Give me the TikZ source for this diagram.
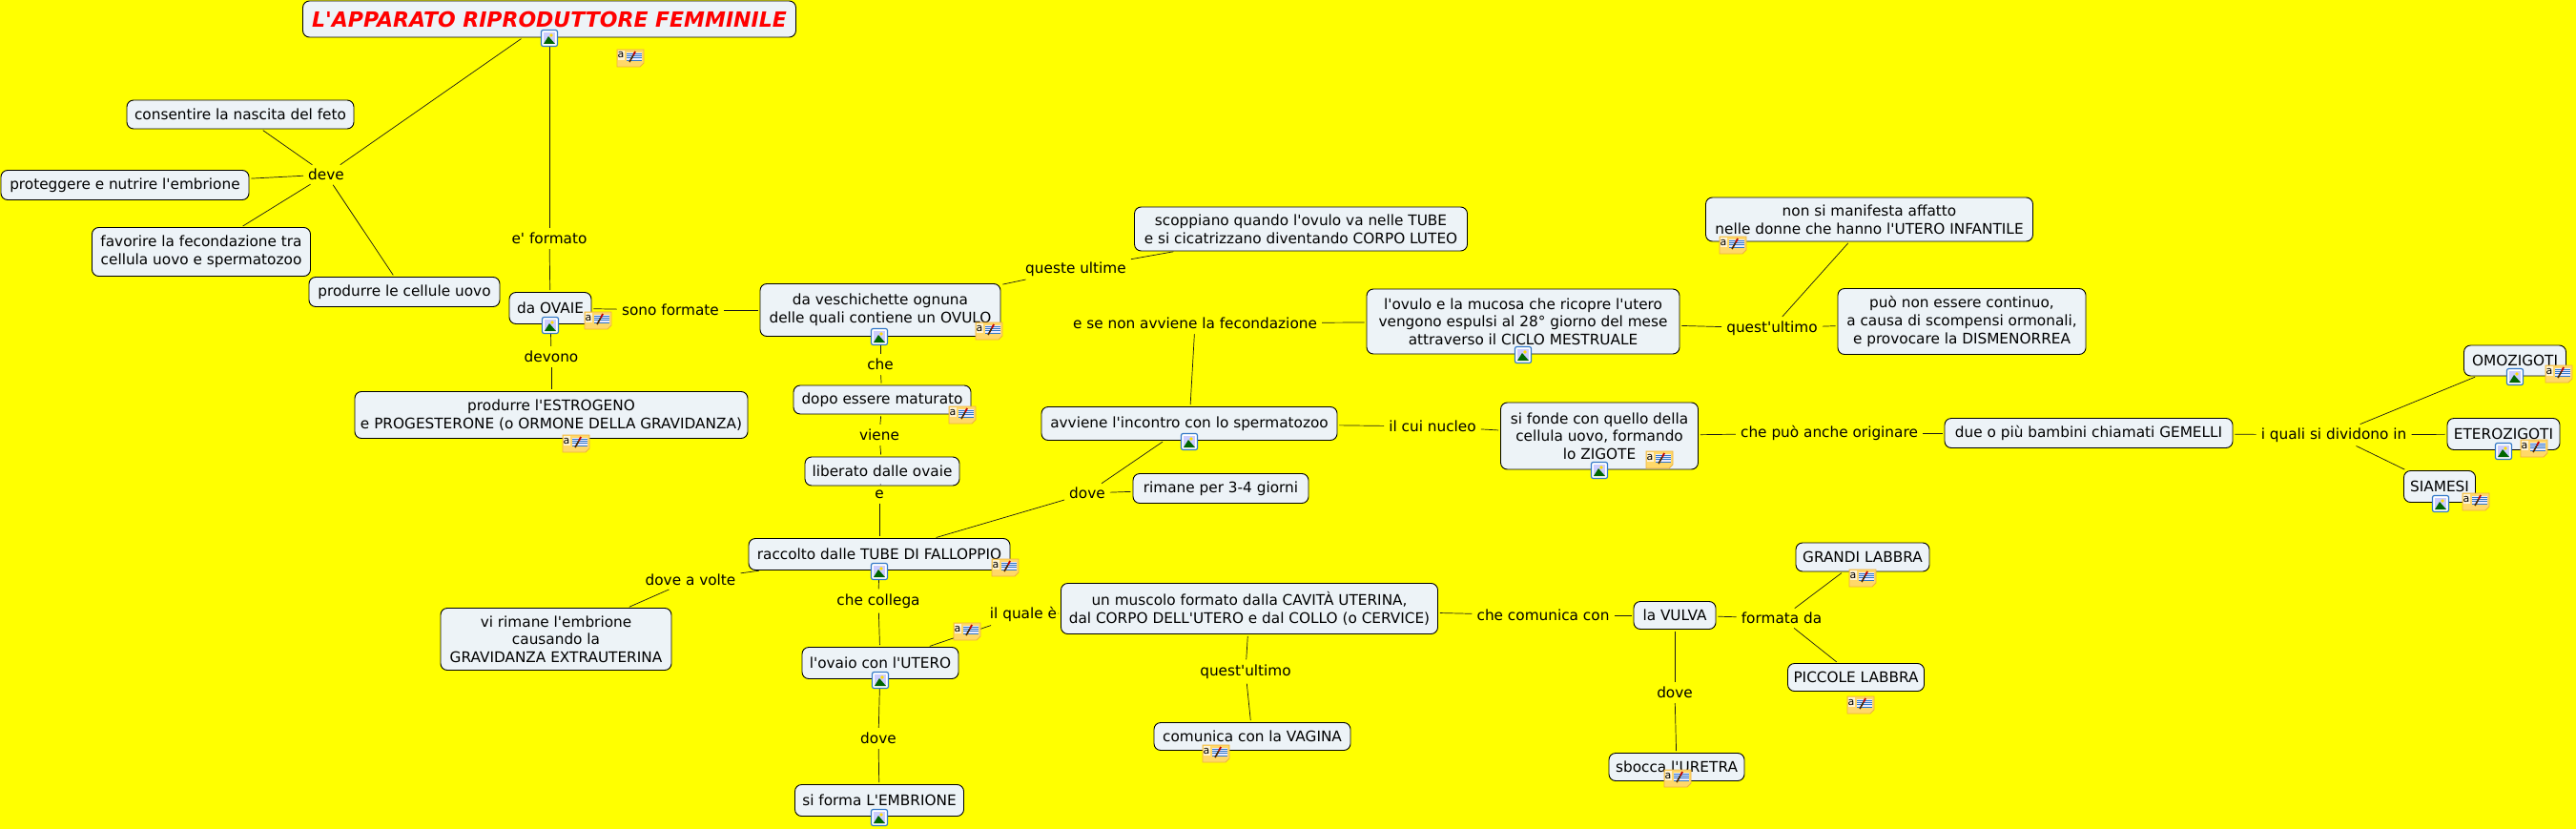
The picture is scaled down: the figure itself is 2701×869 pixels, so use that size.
\documentclass[tikz,border=0pt]{standalone}
\usepackage{fontspec}
\setmainfont{DejaVu Sans}[Ligatures=TeXOff]
\usepackage{tikz}
\usetikzlibrary{calc}
\definecolor{sfondo}{RGB}{255,255,0}
\definecolor{riempi}{RGB}{237,243,247}
\definecolor{notafill}{RGB}{255,216,105}
\definecolor{notabordo}{RGB}{238,178,60}
\definecolor{azzurro}{RGB}{50,120,200}
\tikzset{
  concetto/.style 2 args={draw=black,fill=riempi,rounded corners=7pt,line width=0.9pt,align=center,
    text=black,inner sep=0pt,minimum width=#1,minimum height=#2,font=\fontsize{15.3}{18.7}\selectfont},
  legame/.style={inner sep=3pt,text=black,font=\fontsize{15.3}{18.7}\selectfont},
  linea/.style={draw=black!90,line width=0.7pt},
  lineavia/.style={linea,shorten >=2pt,shorten <=2pt}
}
% icona immagine e icona nota
\newcommand\iconaimg[2]{%
  \node[inner sep=0pt,minimum size=0pt] (#1) at (#2) {};
  \fill[white,draw=azzurro,line width=1.2pt,rounded corners=2pt] (#1)+(-8.5,-8.5) rectangle +(8.5,8.5);
  \fill[blue!20!white] (#1)+(-6,-6) rectangle +(6,6);
  \fill[green!40!black] (#1)+(-6,6) -- +(-1,-2) -- +(6,6) -- cycle;
  \fill[yellow!80!orange] (#1)+(2,-3) circle (1.8);
}
\newcommand\iconanota[2]{%
  \node[inner sep=0pt,minimum size=0pt] (#1) at (#2) {};
  \fill[notafill,draw=notabordo,line width=0.8pt] (#1)+(-14,-9) -- +(14,-9) -- +(14,5) -- +(10,9) -- +(-14,9) -- cycle;
  \fill[blue!8!white] (#1)+(-4,-6) rectangle +(12,3);
  \foreach \r in {-5,-2.7,-0.4,1.9}
    \draw[azzurro,line width=0.6pt] (#1)+(-4,\r) -- +(12,\r);
  \draw[black!70!orange,line width=1.6pt] (#1)+(-1,4) -- +(3,-3);
  \draw[red!75!black,line width=1.8pt] (#1)+(3,-3) -- +(5,-7);
  \node[inner sep=0pt,font=\fontsize{11}{11}\selectfont,fill=white!70!notafill,minimum width=7pt,minimum height=10pt] at ($(#1)+(-10,-3)$) {a};
}
\begin{document}
\begin{tikzpicture}[x=1pt,y=-1pt]
  \useasboundingbox[fill=sfondo] (0,0) rectangle (2701,869);

  % concetti
  \node[concetto={517pt}{38pt},font=\fontsize{22}{24}\bfseries\itshape\selectfont,text=red] (titolo) at (576,20) {L'APPARATO RIPRODUTTORE FEMMINILE};
  \node[concetto={238pt}{30pt}] (nascita) at (252,120) {consentire la nascita del feto};
  \node[concetto={260pt}{31pt}] (proteggere) at (131,194) {proteggere e nutrire l'embrione};
  \node[concetto={229pt}{51pt}] (favorire) at (211,264) {favorire la fecondazione tra\\cellula uovo e spermatozoo};
  \node[concetto={200pt}{31pt}] (cellule) at (424,306) {produrre le cellule uovo};
  \node[concetto={86pt}{33pt}] (ovaie) at (577,323) {da OVAIE};
  \node[concetto={412pt}{49pt}] (estrogeno) at (578,435) {produrre l'ESTROGENO\\e PROGESTERONE (o ORMONE DELLA GRAVIDANZA)};
  \node[concetto={252pt}{55pt}] (vescichette) at (923,325) {da veschichette ognuna\\delle quali contiene un OVULO};
  \node[concetto={349pt}{46pt}] (scoppiano) at (1364,240) {scoppiano quando l'ovulo va nelle TUBE\\e si cicatrizzano diventando CORPO LUTEO};
  \node[concetto={186pt}{30pt}] (maturato) at (925,419) {dopo essere maturato};
  \node[concetto={162pt}{30pt}] (liberato) at (925,494) {liberato dalle ovaie};
  \node[concetto={274pt}{33pt}] (raccolto) at (922,581) {raccolto dalle TUBE DI FALLOPPIO};
  \node[concetto={242pt}{65pt}] (extrauterina) at (583,670) {vi rimane l'embrione\\causando la\\GRAVIDANZA EXTRAUTERINA};
  \node[concetto={164pt}{33pt}] (ovaio) at (923,695) {l'ovaio con l'UTERO};
  \node[concetto={177pt}{33pt}] (embrione) at (922,839) {si forma L'EMBRIONE};
  \node[concetto={310pt}{35pt}] (incontro) at (1247,444) {avviene l'incontro con lo spermatozoo};
  \node[concetto={184pt}{31pt}] (giorni) at (1280,512) {rimane per 3-4 giorni};
  \node[concetto={328pt}{68pt}] (ovulo) at (1597,337) {l'ovulo e la mucosa che ricopre l'utero\\vengono espulsi al 28° giorno del mese\\attraverso il CICLO MESTRUALE};
  \node[concetto={207pt}{70pt}] (zigote) at (1677,457) {si fonde con quello della\\cellula uovo, formando\\lo ZIGOTE};
  \node[concetto={343pt}{46pt}] (infantile) at (1960,230) {non si manifesta affatto\\nelle donne che hanno l'UTERO INFANTILE};
  \node[concetto={260pt}{69pt}] (dismenorrea) at (2057,337) {può non essere continuo,\\a causa di scompensi ormonali,\\e provocare la DISMENORREA};
  \node[concetto={302pt}{31pt}] (gemelli) at (2190,454) {due o più bambini chiamati GEMELLI};
  \node[concetto={107pt}{32pt}] (omozigoti) at (2637,378) {OMOZIGOTI};
  \node[concetto={118pt}{33pt}] (eterozigoti) at (2625,455) {ETEROZIGOTI};
  \node[concetto={75pt}{33pt}] (siamesi) at (2558,510) {SIAMESI};
  \node[concetto={395pt}{53pt}] (muscolo) at (1310,638) {un muscolo formato dalla CAVITÀ UTERINA,\\dal CORPO DELL'UTERO e dal COLLO (o CERVICE)};
  \node[concetto={206pt}{29pt}] (vagina) at (1313,772) {comunica con la VAGINA};
  \node[concetto={86pt}{29pt}] (vulva) at (1756,645) {la VULVA};
  \node[concetto={140pt}{30pt}] (grandi) at (1953,584) {GRANDI LABBRA};
  \node[concetto={143pt}{29pt}] (piccole) at (1946,710) {PICCOLE LABBRA};
  \node[concetto={142pt}{29pt}] (uretra) at (1758,804) {sbocca l'URETRA};

  % parole legame
  \node[legame] (deve) at (342,183) {deve};
  \node[legame] (formato) at (576,250) {e' formato};
  \node[legame] (devono) at (578,374) {devono};
  \node[legame] (sono) at (703,325) {sono formate};
  \node[legame] (queste) at (1128,282) {queste ultime};
  \node[legame] (che) at (923,382) {che};
  \node[legame] (viene) at (922,456) {viene};
  \node[legame] (congE) at (922,518) {e};
  \node[legame] (dovevolte) at (724,608) {dove a volte};
  \node[legame] (collega) at (921,630) {che collega};
  \node[legame] (quale) at (1073,644) {il quale è};
  \node[legame] (doveemb) at (921,774) {dove};
  \node[legame] (doverim) at (1140,517) {dove};
  \node[legame] (senon) at (1253,339) {e se non avviene la fecondazione};
  \node[legame] (nucleo) at (1502,447) {il cui nucleo};
  \node[legame] (questo) at (1858,344) {quest'ultimo};
  \node[legame] (originare) at (1918,454) {che può anche originare};
  \node[legame] (dividono) at (2447,456) {i quali si dividono in};
  \node[legame] (comunica) at (1618,645) {che comunica con};
  \node[legame] (questoVag) at (1306,704) {quest'ultimo};
  \node[legame] (formata) at (1868,648) {formata da};
  \node[legame] (doveur) at (1756,726) {dove};

  % collegamenti
  \foreach \a/\b in {titolo/deve,titolo/formato,formato/ovaie,ovaie/devono,devono/estrogeno,
    ovaie/sono,sono/vescichette,vescichette/queste,queste/scoppiano,vescichette/che,che/maturato,
    maturato/viene,viene/liberato,liberato/congE,congE/raccolto,raccolto/dovevolte,dovevolte/extrauterina,
    raccolto/collega,collega/ovaio,ovaio/doveemb,doveemb/embrione,ovaio/quale,quale/muscolo,
    raccolto/doverim,incontro/doverim,doverim/giorni,incontro/senon,senon/ovulo,incontro/nucleo,nucleo/zigote,
    ovulo/questo,questo/infantile,questo/dismenorrea,zigote/originare,originare/gemelli,gemelli/dividono,
    dividono/omozigoti,dividono/eterozigoti,dividono/siamesi,muscolo/comunica,comunica/vulva,
    muscolo/questoVag,questoVag/vagina,vulva/formata,formata/grandi,formata/piccole,vulva/doveur,doveur/uretra,
    nascita/deve,proteggere/deve,favorire/deve,cellule/deve}
    \draw[lineavia] (\a) -- (\b);

  % icone
  \iconaimg{imgTitolo}{576,40}
  \iconaimg{imgOvaie}{577,341}
  \iconaimg{imgVesc}{922,353}
  \iconaimg{imgRacc}{922,599}
  \iconaimg{imgOvaio}{923,713}
  \iconaimg{imgEmb}{922,857}
  \iconaimg{imgInc}{1247,463}
  \iconaimg{imgOvulo}{1597,372}
  \iconaimg{imgZig}{1677,493}
  \iconaimg{imgOmo}{2637,395}
  \iconaimg{imgEte}{2625,473}
  \iconaimg{imgSia}{2559,528}
  \iconanota{notaTitolo}{661,61}
  \iconanota{notaOvaie}{627,336}
  \iconanota{notaEstr}{604,465}
  \iconanota{notaVesc}{1037,347}
  \iconanota{notaMat}{1009,435}
  \iconanota{notaRacc}{1054,595}
  \iconanota{notaOvaio}{1014,662}
  \iconanota{notaZig}{1740,482}
  \iconanota{notaInf}{1817,257}
  \iconanota{notaOmo}{2683,392}
  \iconanota{notaEte}{2657,470}
  \iconanota{notaSia}{2596,526}
  \iconanota{notaGra}{1953,606}
  \iconanota{notaPic}{1951,739}
  \iconanota{notaVag}{1275,790}
  \iconanota{notaUre}{1759,816}
\end{tikzpicture}
\end{document}
